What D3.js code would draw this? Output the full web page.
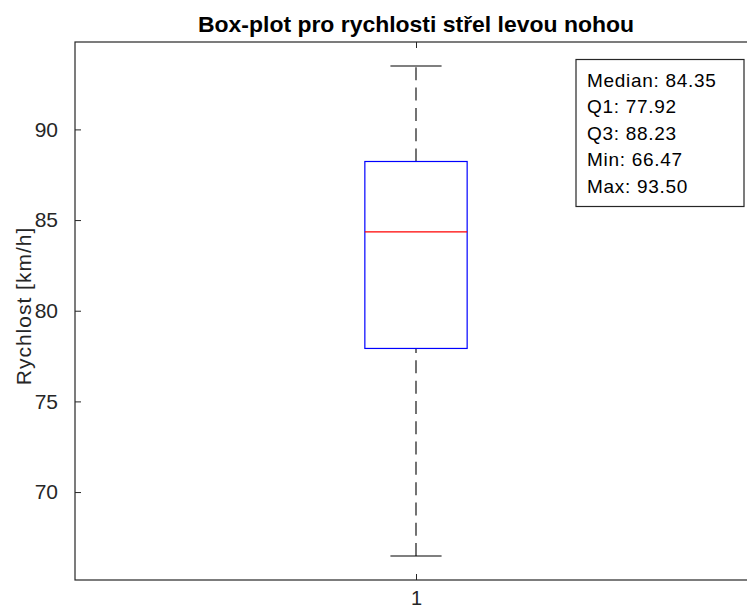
<!DOCTYPE html>
<html>
<head>
<meta charset="utf-8">
<script src="https://cdn.jsdelivr.net/npm/d3@7/dist/d3.min.js"></script>
<style>
  html, body { margin: 0; padding: 0; background: #fff; }
  svg { display: block; font-family: "Liberation Sans", Arial, Helvetica, sans-serif; }
</style>
</head>
<body>
<svg id="chart" width="747" height="610"></svg>
<script>
// ---- data ----
const titleText = "Box-plot pro rychlosti střel levou nohou";
const yLabel = "Rychlost [km/h]";
const categories = [1];
const medianVals = [84.35];
const q1Vals = [77.92];
const q3Vals = [88.23];
const minVals = [66.47];
const maxVals = [93.50];
const yTicks = [70, 75, 80, 85, 90];
const statLabels = ["Median", "Q1", "Q3", "Min", "Max"];
const statValues = [84.35, 77.92, 88.23, 66.47, 93.50];

// ---- layout ----
const svg = d3.select("#chart");
const pLeft = 75, pRight = 757, pTop = 42, pBottom = 580;
const axisColor = "#262626";

const x = d3.scaleLinear().domain([0.5, 1.5]).range([pLeft, pRight]);
const y = d3.scaleLinear().domain([65.15, 94.82]).range([pBottom, pTop]);

// frame
svg.append("rect")
  .attr("x", pLeft).attr("y", pTop)
  .attr("width", pRight - pLeft).attr("height", pBottom - pTop)
  .attr("fill", "none").attr("stroke", axisColor).attr("stroke-width", 1.2);

// y axis ticks (inward)
const yAxis = d3.axisLeft(y).tickValues(yTicks).tickSizeInner(-6).tickSizeOuter(0).tickPadding(17);
const gy = svg.append("g").attr("transform", `translate(${pLeft},0)`).call(yAxis);
gy.select(".domain").remove();
gy.selectAll(".tick line").attr("stroke", axisColor);
gy.selectAll(".tick text").attr("fill", axisColor).style("font-size", "21px")
  .style("font-family", "Liberation Sans, Arial, sans-serif");

// x axis ticks (inward at bottom, and at top)
const xAxis = d3.axisBottom(x).tickValues(categories).tickFormat(d3.format("d"))
  .tickSizeInner(-6).tickSizeOuter(0).tickPadding(11);
const gx = svg.append("g").attr("transform", `translate(0,${pBottom})`).call(xAxis);
gx.select(".domain").remove();
gx.selectAll(".tick line").attr("stroke", axisColor);
gx.selectAll(".tick text").attr("fill", axisColor).style("font-size", "20px")
  .style("font-family", "Liberation Sans, Arial, sans-serif");
const gxt = svg.append("g").attr("transform", `translate(0,${pTop})`)
  .call(d3.axisTop(x).tickValues(categories).tickSizeInner(-6).tickSizeOuter(0).tickFormat(""));
gxt.select(".domain").remove();
gxt.selectAll(".tick line").attr("stroke", axisColor);

// y label
svg.append("text")
  .attr("transform", `translate(31,${(pTop + pBottom) / 2 - 5}) rotate(-90)`)
  .attr("text-anchor", "middle")
  .attr("fill", axisColor)
  .style("font-size", "21px")
  .attr("letter-spacing", "1px")
  .text(yLabel);

// title
svg.append("text")
  .attr("x", x(1)).attr("y", 32)
  .attr("text-anchor", "middle")
  .attr("fill", "#000")
  .style("font-size", "21.5px").style("font-weight", "bold")
  .attr("textLength", 436).attr("lengthAdjust", "spacingAndGlyphs")
  .text(titleText);

// box plot
const boxHalf = 0.075, capHalf = 0.0375;
const g = svg.append("g");
categories.forEach((c, i) => {
  const cx = x(c);
  // whiskers (drawn from lower value to higher value)
  g.append("line").attr("x1", cx).attr("x2", cx)
    .attr("y1", y(q3Vals[i])).attr("y2", y(maxVals[i]))
    .attr("stroke", "#000").attr("stroke-width", 1.1).attr("stroke-dasharray", "13,7.3");
  g.append("line").attr("x1", cx).attr("x2", cx)
    .attr("y1", y(minVals[i])).attr("y2", y(q1Vals[i]))
    .attr("stroke", "#000").attr("stroke-width", 1.1).attr("stroke-dasharray", "13,7.3");
  // caps
  [maxVals[i], minVals[i]].forEach(v => {
    g.append("line").attr("x1", x(c - capHalf)).attr("x2", x(c + capHalf))
      .attr("y1", y(v)).attr("y2", y(v))
      .attr("stroke", "#000").attr("stroke-width", 1.1);
  });
  // box
  g.append("rect")
    .attr("x", x(c - boxHalf)).attr("y", y(q3Vals[i]))
    .attr("width", x(c + boxHalf) - x(c - boxHalf))
    .attr("height", y(q1Vals[i]) - y(q3Vals[i]))
    .attr("fill", "none").attr("stroke", "#0000ff").attr("stroke-width", 1.2);
  // median
  g.append("line").attr("x1", x(c - boxHalf)).attr("x2", x(c + boxHalf))
    .attr("y1", y(medianVals[i])).attr("y2", y(medianVals[i]))
    .attr("stroke", "#ff0000").attr("stroke-width", 1.2);
});

// stats annotation box
const ann = svg.append("g");
ann.append("rect")
  .attr("x", 576).attr("y", 59.5).attr("width", 168).attr("height", 147)
  .attr("fill", "#fff").attr("stroke", axisColor).attr("stroke-width", 1.2);
statLabels.forEach((lab, i) => {
  ann.append("text")
    .attr("x", 587).attr("y", 86.5 + i * 26.5)
    .attr("fill", "#000")
    .style("font-size", "19px")
    .attr("letter-spacing", "0.7px")
    .text(`${lab}: ${statValues[i].toFixed(2)}`);
});
</script>
</body>
</html>
